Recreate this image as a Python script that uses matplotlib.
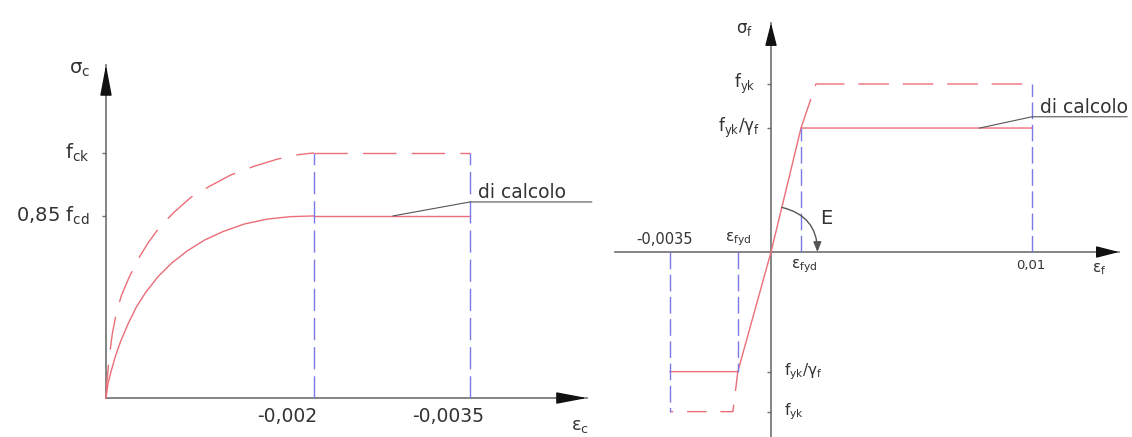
import numpy as np
import matplotlib.pyplot as plt

# --- calcestruzzo: legame parabola-rettangolo (compressione negativa) ---
eps_c_k = [0, -0.00001, -0.00003, -0.00006, -0.00010, -0.00015, -0.00022, -0.00030,
           -0.00040, -0.00052, -0.00066, -0.00082, -0.00100, -0.00120, -0.00142,
           -0.00165, -0.00185, -0.0020]
sig_c_k = [0, 0.07, 0.16, 0.26, 0.35, 0.42, 0.49, 0.56, 0.63, 0.70, 0.76, 0.82,
           0.865, 0.91, 0.945, 0.975, 0.993, 1.0]
eps_c_d = [0, -0.00002, -0.00005, -0.00009, -0.00014, -0.00021, -0.00029, -0.00038,
           -0.00050, -0.00063, -0.00078, -0.00095, -0.00113, -0.00133, -0.00155,
           -0.00177, -0.0020]
sig_c_d = [0, 0.06, 0.11, 0.17, 0.23, 0.30, 0.37, 0.43, 0.495, 0.55, 0.60, 0.645,
           0.68, 0.71, 0.73, 0.74, 0.743]
eps_c2 = -0.002
eps_cu = -0.0035
f_ck = 1.0
f_cd = 0.743

# --- acciaio: legame elastico-perfettamente plastico ---
eps_yd = 0.00115
eps_yk = 0.00172
eps_ud = 0.01
eps_cmp = -0.0035
eps_cmp_k = -0.00132
f_yk = 1.0
f_yd = 0.738
f_yd_cmp = -0.712
f_yk_cmp = -0.95

RED = '#ec6d78'
BLUE = '#7a7ae6'
AX = '#707070'
GREY = '#555555'
TXT = '#333333'

fig = plt.figure(figsize=(11.32, 4.37), dpi=100)


def axis_arrow(ax, tip, base, head=0.08, hl=0.95):
    # asse grigio con punta nera
    ax.plot([base[0], tip[0]], [base[1], tip[1]], color=AX, lw=1.2)
    start = (tip[0] - head * (tip[0] - base[0]), tip[1] - head * (tip[1] - base[1]))
    ax.annotate('', xy=tip, xytext=start,
                arrowprops=dict(arrowstyle=f'-|>,head_length={hl},head_width=0.18',
                                color='#111111', lw=1.0, mutation_scale=20,
                                shrinkA=0, shrinkB=0))


def label(ax, s, xy, dx, dy, ha='center', size=13.5, color=TXT):
    ax.annotate(s, xy, xytext=(dx, dy), textcoords='offset points',
                ha=ha, va='center', fontsize=size, color=color)


# ---------------- pannello sinistro ----------------
axl = fig.add_axes([0, 0, 600 / 1132, 1])
axl.set_xlim(0.001019, -0.00475)
axl.set_ylim(-0.159, 1.624)
axl.axis('off')

axis_arrow(axl, (0, 1.359), (0, 0), head=0.06)
axis_arrow(axl, (-0.004625, 0), (0, 0), head=0.04)
axl.plot([0, 0], [f_ck, f_cd], ls='none', marker=0, ms=3, color=AX)

axl.plot(eps_c_k, sig_c_k, color=RED, lw=1, dashes=(24, 11))
axl.plot([eps_c2, eps_cu], [f_ck, f_ck], color=RED, lw=1, dashes=(24, 11))
axl.plot(eps_c_d, sig_c_d, color=RED, lw=1)
axl.plot([eps_c2, eps_cu], [f_cd, f_cd], color=RED, lw=1)
for e in (eps_c2, eps_cu):
    axl.plot([e, e], [0, f_ck], color=BLUE, lw=1, dashes=(16, 5))

# richiamo "di calcolo"
axl.plot([-0.00276, eps_cu, -0.00467], [f_cd, 0.80, 0.80], color=GREY, lw=0.8)
axl.text(-0.00358, 0.84, 'di calcolo', ha='left', va='center',
         fontsize=13.5, color=TXT)

label(axl, r'$\mathregular{σ_c}$', (0, 1.359), -19, -3, size=14)
label(axl, r'$\mathregular{f_{ck}}$', (0, f_ck), -12, 0, ha='right', size=14)
label(axl, r'0,85 $\mathregular{f_{cd}}$', (0, f_cd), -12, 0, ha='right', size=14)
label(axl, '-0,002', (eps_c2, 0), -19, -13)
label(axl, '-0,0035', (eps_cu, 0), -16, -13)
label(axl, r'$\mathregular{ε_c}$', (-0.004625, 0), -5, -20, size=13)

# ---------------- pannello destro ----------------
k_cmp = 1.106


def fwd(x):
    x = np.asarray(x, dtype=float)
    return np.where(x < 0, x * k_cmp, x)


def inv(x):
    x = np.asarray(x, dtype=float)
    return np.where(x < 0, x / k_cmp, x)


axr = fig.add_axes([600 / 1132, 0, 532 / 1132, 1])
axr.set_xscale('function', functions=(fwd, inv))
axr.set_xlim(-0.005924, 0.013831)
axr.set_ylim(-1.101, 1.5)
axr.axis('off')

axis_arrow(axr, (0, 1.363), (0, -1.101), head=0.045, hl=0.7)
axis_arrow(axr, (0.01333, 0), (-0.005404, 0), head=0.04, hl=0.7)
axr.plot([0, 0, 0, 0], [f_yk, f_yd, f_yd_cmp, f_yk_cmp], ls='none',
         marker=0, ms=3, color=AX)

axr.plot([eps_cmp, -eps_yd, 0, eps_yd, eps_ud],
         [f_yd_cmp, f_yd_cmp, 0, f_yd, f_yd], color=RED, lw=1)
axr.plot([eps_yd, eps_yk, eps_ud], [f_yd, f_yk, f_yk],
         color=RED, lw=1, dashes=(22, 10))
axr.plot([-eps_yd, eps_cmp_k, eps_cmp], [f_yd_cmp, f_yk_cmp, f_yk_cmp],
         color=RED, lw=1, dashes=(14, 10))
for e, s in ((eps_cmp, f_yk_cmp), (-eps_yd, f_yd_cmp), (eps_yd, f_yd), (eps_ud, f_yk)):
    axr.plot([e, e], [0, s], color=BLUE, lw=1, dashes=(12, 4))

# modulo elastico E
e_frac = 0.36
axr.annotate('', xy=(0.00178, 0), xytext=(e_frac * eps_yd, e_frac * f_yd),
             arrowprops=dict(arrowstyle='-|>,head_length=0.5,head_width=0.2',
                             mutation_scale=12, connectionstyle='arc3,rad=-0.39',
                             color=GREY, lw=1, shrinkA=0, shrinkB=0))
axr.text(0.00188, 0.2, 'E', ha='left', va='center', fontsize=14, color=TXT)

# richiamo "di calcolo"
axr.plot([0.0080, eps_ud, 0.01364], [f_yd, 0.805, 0.805], color=GREY, lw=0.8)
axr.text(0.0103, 0.863, 'di calcolo', ha='left', va='center',
         fontsize=13.5, color=TXT)

label(axr, r'$\mathregular{σ_f}$', (0, 1.363), -19, -4, size=12)
label(axr, r'$\mathregular{f_{yk}}$', (0, f_yk), -11, 0, ha='right', size=12)
label(axr, r'$\mathregular{f_{yk}/γ_f}$', (0, f_yd), -8, 0, ha='right', size=12)
label(axr, r'$\mathregular{f_{yk}/γ_f}$', (0, f_yd_cmp), 9, 0, ha='left', size=11)
label(axr, r'$\mathregular{f_{yk}}$', (0, f_yk_cmp), 9, 0, ha='left', size=11)
label(axr, '-0,0035', (eps_cmp, 0), -4, 9, size=10.5)
label(axr, r'$\mathregular{ε_{fyd}}$', (-eps_yd, 0), 0, 9, size=11)
label(axr, r'$\mathregular{ε_{fyd}}$', (eps_yd, 0), 2, -10, size=11)
label(axr, '0,01', (eps_ud, 0), -1, -10, size=9.5)
label(axr, r'$\mathregular{ε_f}$', (0.01333, 0), -14, -12, size=11)

fig.savefig('out.png', dpi=100)
